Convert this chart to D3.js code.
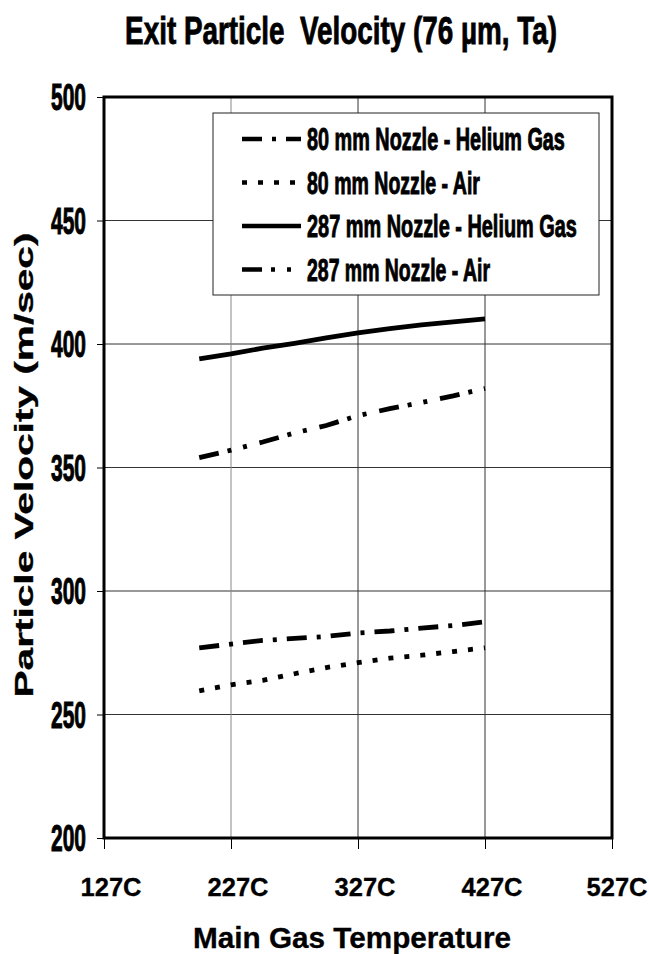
<!DOCTYPE html>
<html>
<head>
<meta charset="utf-8">
<script src="https://cdn.jsdelivr.net/npm/d3@7"></script>
<style>
  html, body { margin: 0; padding: 0; background: #fff; }
  svg { display: block; }
</style>
</head>
<body>
<svg id="chart" width="649" height="954"></svg>
<script>
// ---------------- DATA ----------------
const temps   = [202, 227, 252, 277, 302, 327, 352, 377, 402, 427];
const he80    = [277, 278.5, 280, 280.8, 281.6, 283, 283.8, 285, 286, 287.5];
const air80   = [259.6, 262, 263.8, 266.5, 269, 271, 272.8, 274, 275.5, 277];
const he287   = [394, 396, 398.3, 400.3, 402.5, 404.5, 406.2, 407.7, 409, 410.2];
const air287  = [354, 357, 360.3, 364, 367, 371, 373.8, 376.3, 379, 382];
const seriesNames = ["80 mm Nozzle - Helium Gas", "80 mm Nozzle - Air",
                     "287 mm Nozzle - Helium Gas", "287 mm Nozzle - Air"];
const xTicks = [127, 227, 327, 427, 527];
const xTickLabels = ["127C", "227C", "327C", "427C", "527C"];
const yTicks = [200, 250, 300, 350, 400, 450, 500];
const titleText = "Exit Particle\u00a0\u00a0Velocity (76 \u00b5m, Ta)";
const xTitle = "Main Gas Temperature";
const yTitle = "Particle Velocity (m/sec)";

// ---------------- LAYOUT ----------------
const L = 104, R = 612, T = 97, B = 838;
const sans = "'Liberation Sans', Arial, Helvetica, sans-serif";
const dashes = ["20,10,4,10", "5,11", null, "20,9,4,12,4,13"];
const seriesData = [he80, air80, he287, air287];

const svg = d3.select("#chart");
const x = d3.scaleLinear().domain([127, 527]).range([L, R]);
const y = d3.scaleLinear().domain([200, 500]).range([B, T]);

function fit(sel, w) {
  sel.attr("textLength", w).attr("lengthAdjust", "spacingAndGlyphs");
}
// condensed tall text: natural width = w, cap height = cap (via vertical scale)
function tallText(g, str, px, py, w, cap, anchor) {
  const t = g.append("text").attr("font-family", sans).attr("font-weight", "bold")
    .attr("font-size", 20).text(str);
  const w0 = t.node().getComputedTextLength();
  const f = 20 * w / w0;
  const sy = (cap / 0.716) / f;
  t.attr("font-size", f).attr("text-anchor", anchor || "start")
   .attr("stroke", "#000").attr("stroke-width", 0.6)
   .attr("transform", `translate(${px},${py}) scale(1,${sy})`);
  return t;
}

// gridlines
const grid = svg.append("g");
grid.selectAll("line.h").data(yTicks.slice(1, -1)).join("line")
  .attr("x1", L).attr("x2", R).attr("y1", d => y(d)).attr("y2", d => y(d))
  .attr("stroke", "#333").attr("stroke-width", 1);
grid.selectAll("line.v").data(xTicks.slice(1, -1)).join("line")
  .attr("y1", T).attr("y2", B).attr("x1", d => x(d)).attr("x2", d => x(d))
  .attr("stroke", (d, i) => i === 0 ? "#888" : "#333").attr("stroke-width", 1);

// axes ticks
const yAxis = svg.append("g").attr("transform", `translate(${L},0)`)
  .call(d3.axisLeft(y).tickValues(yTicks).tickSize(7).tickFormat(""));
yAxis.select(".domain").remove();
yAxis.selectAll("line").attr("stroke", "#000").attr("stroke-width", 1);

const xAxis = svg.append("g").attr("transform", `translate(0,${B})`)
  .call(d3.axisBottom(x).tickValues(xTicks).tickSize(11).tickFormat(""));
xAxis.select(".domain").remove();
xAxis.selectAll("line").attr("stroke", "#000").attr("stroke-width", 1);

// y tick labels
const yl = svg.append("g");
yTicks.forEach(v => tallText(yl, String(v), 86, y(v) + 13, 35, 26, "end"));

// x tick labels
svg.append("g").selectAll("text").data(xTicks).join("text")
  .attr("x", (d) => Math.min(x(d) + 7, 617)).attr("y", 896)
  .attr("text-anchor", "middle")
  .attr("font-family", sans).attr("font-weight", "bold").attr("font-size", 26)
  .attr("stroke", "#000").attr("stroke-width", 0.3)
  .text((d, i) => xTickLabels[i])
  .call(fit, 61);

// lines
const line = d3.line().x((d, i) => x(temps[i])).y(d => y(d));
svg.append("g").selectAll("path").data(seriesData).join("path")
  .attr("d", d => line(d))
  .attr("fill", "none").attr("stroke", "#000").attr("stroke-width", 4.8)
  .attr("stroke-dasharray", (d, i) => dashes[i])
  .attr("stroke-linecap", "butt");

// frame
svg.append("rect").attr("x", L).attr("y", T).attr("width", R - L).attr("height", B - T)
  .attr("fill", "none").attr("stroke", "#000").attr("stroke-width", 3);

// legend
const lg = svg.append("g");
lg.append("rect").attr("x", 213).attr("y", 113).attr("width", 386).attr("height", 182)
  .attr("fill", "#fff").attr("stroke", "#222").attr("stroke-width", 1);
const rowY = i => 150 + i * 43.5;
const legendWidths = [258, 173, 270, 183];
seriesNames.forEach((name, i) => {
  lg.append("line").attr("x1", 242).attr("x2", 301)
    .attr("y1", rowY(i) - 11).attr("y2", rowY(i) - 11)
    .attr("stroke", "#000").attr("stroke-width", 4.5)
    .attr("stroke-dasharray", dashes[i]);
  tallText(lg, name, 307, rowY(i), legendWidths[i], 23, "start");
});

// title
tallText(svg, titleText, 341, 44, 432, 28, "middle");

// x title
svg.append("text").attr("x", 352).attr("y", 948).attr("text-anchor", "middle")
  .attr("font-family", sans).attr("font-weight", "bold").attr("font-size", 29)
  .attr("stroke", "#000").attr("stroke-width", 0.3)
  .text(xTitle).call(fit, 318);

// y title
svg.append("text").attr("transform", "translate(33,465) rotate(-90)")
  .attr("text-anchor", "middle")
  .attr("font-family", sans).attr("font-weight", "bold").attr("font-size", 25)
  .attr("stroke", "#000").attr("stroke-width", 0.3)
  .text(yTitle).call(fit, 465);
</script>
</body>
</html>
